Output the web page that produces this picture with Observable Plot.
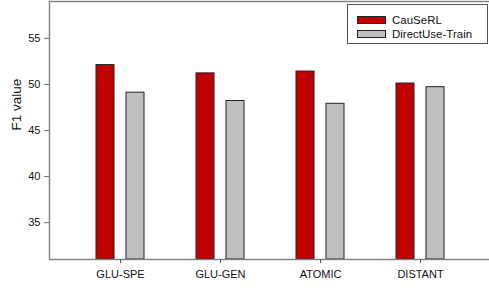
<!DOCTYPE html>
<html><head><meta charset="utf-8">
<script src="https://cdn.jsdelivr.net/npm/d3@7"></script>
<script src="https://cdn.jsdelivr.net/npm/@observablehq/plot@0.6"></script>
<style>
body{margin:0;overflow:hidden;background:#fff;font-family:"Liberation Sans",Arial,sans-serif}
#wrap{position:relative;width:489px;height:288px;overflow:hidden}
#wrap svg{display:block;max-width:none !important}
.legend{position:absolute;left:347px;top:4px;width:141px;height:40px;border:1px solid #555;box-sizing:border-box;background:#fff;font-size:11.5px;color:#111}
.legend .row{position:absolute;left:9px;display:flex;align-items:center;height:12px}
.legend .sw{width:29px;height:8px;border:1px solid #222;box-sizing:border-box;margin-right:6px}
</style>
</head><body>
<div id="wrap"></div>
<script>
const categories = ["GLU-SPE", "GLU-GEN", "ATOMIC", "DISTANT"];
const series = ["CauSeRL", "DirectUse-Train"];
const causerl = [52.1, 51.2, 51.4, 50.1];
const directUse = [49.1, 48.2, 47.9, 49.7];
const yTicks = [35, 40, 45, 50, 55];
const yDomain = [31, 59];
const colors = ["#C00000", "#C0C0C0"];

const rows = categories.flatMap((c, i) => [
  {c, s: series[0], v: causerl[i]},
  {c, s: series[1], v: directUse[i]}
]);

const chart = Plot.plot({
  width: 494,
  height: 288,
  marginLeft: 49,
  marginRight: 3,
  marginTop: 1,
  marginBottom: 29,
  style: {fontFamily: '"Liberation Sans", Arial, sans-serif', fontSize: "11px", background: "#fff", maxWidth: "none"},
  x: {domain: categories, paddingInner: 0.52, paddingOuter: 0.46},
  y: {domain: yDomain},
  color: {domain: series, range: colors},
  marks: [
    Plot.barY(rows.filter(d => d.s === series[0]), {x: "c", y1: () => yDomain[0], y2: "v", fill: "s", stroke: "#222", strokeWidth: 1, insetRight: 30}),
    Plot.barY(rows.filter(d => d.s === series[1]), {x: "c", y1: () => yDomain[0], y2: "v", fill: "s", stroke: "#222", strokeWidth: 1, insetLeft: 30}),
    Plot.frame({stroke: "#808080", strokeWidth: 1.4}),
    Plot.axisY({ticks: yTicks, tickSize: 5, tickPadding: 4, stroke: "#777", fill: "#111", label: null}),
    Plot.axisX({tickSize: 4, tickPadding: 7, stroke: "#555", fill: "#111", label: null}),
    Plot.text(["F1 value"], {frameAnchor: "left", dx: -33, rotate: -90, fontSize: 13.5, fill: "#111"})
  ]
});
chart.style.maxWidth = "none";
document.getElementById("wrap").appendChild(chart);

const lg = document.createElement("div");
lg.className = "legend";
series.forEach((s, i) => {
  const r = document.createElement("div");
  r.className = "row";
  r.style.top = (9 + i * 14) + "px";
  const sw = document.createElement("div");
  sw.className = "sw";
  sw.style.background = colors[i];
  const t = document.createElement("span");
  t.textContent = s;
  r.appendChild(sw); r.appendChild(t);
  lg.appendChild(r);
});
document.getElementById("wrap").appendChild(lg);
</script>
</body></html>
